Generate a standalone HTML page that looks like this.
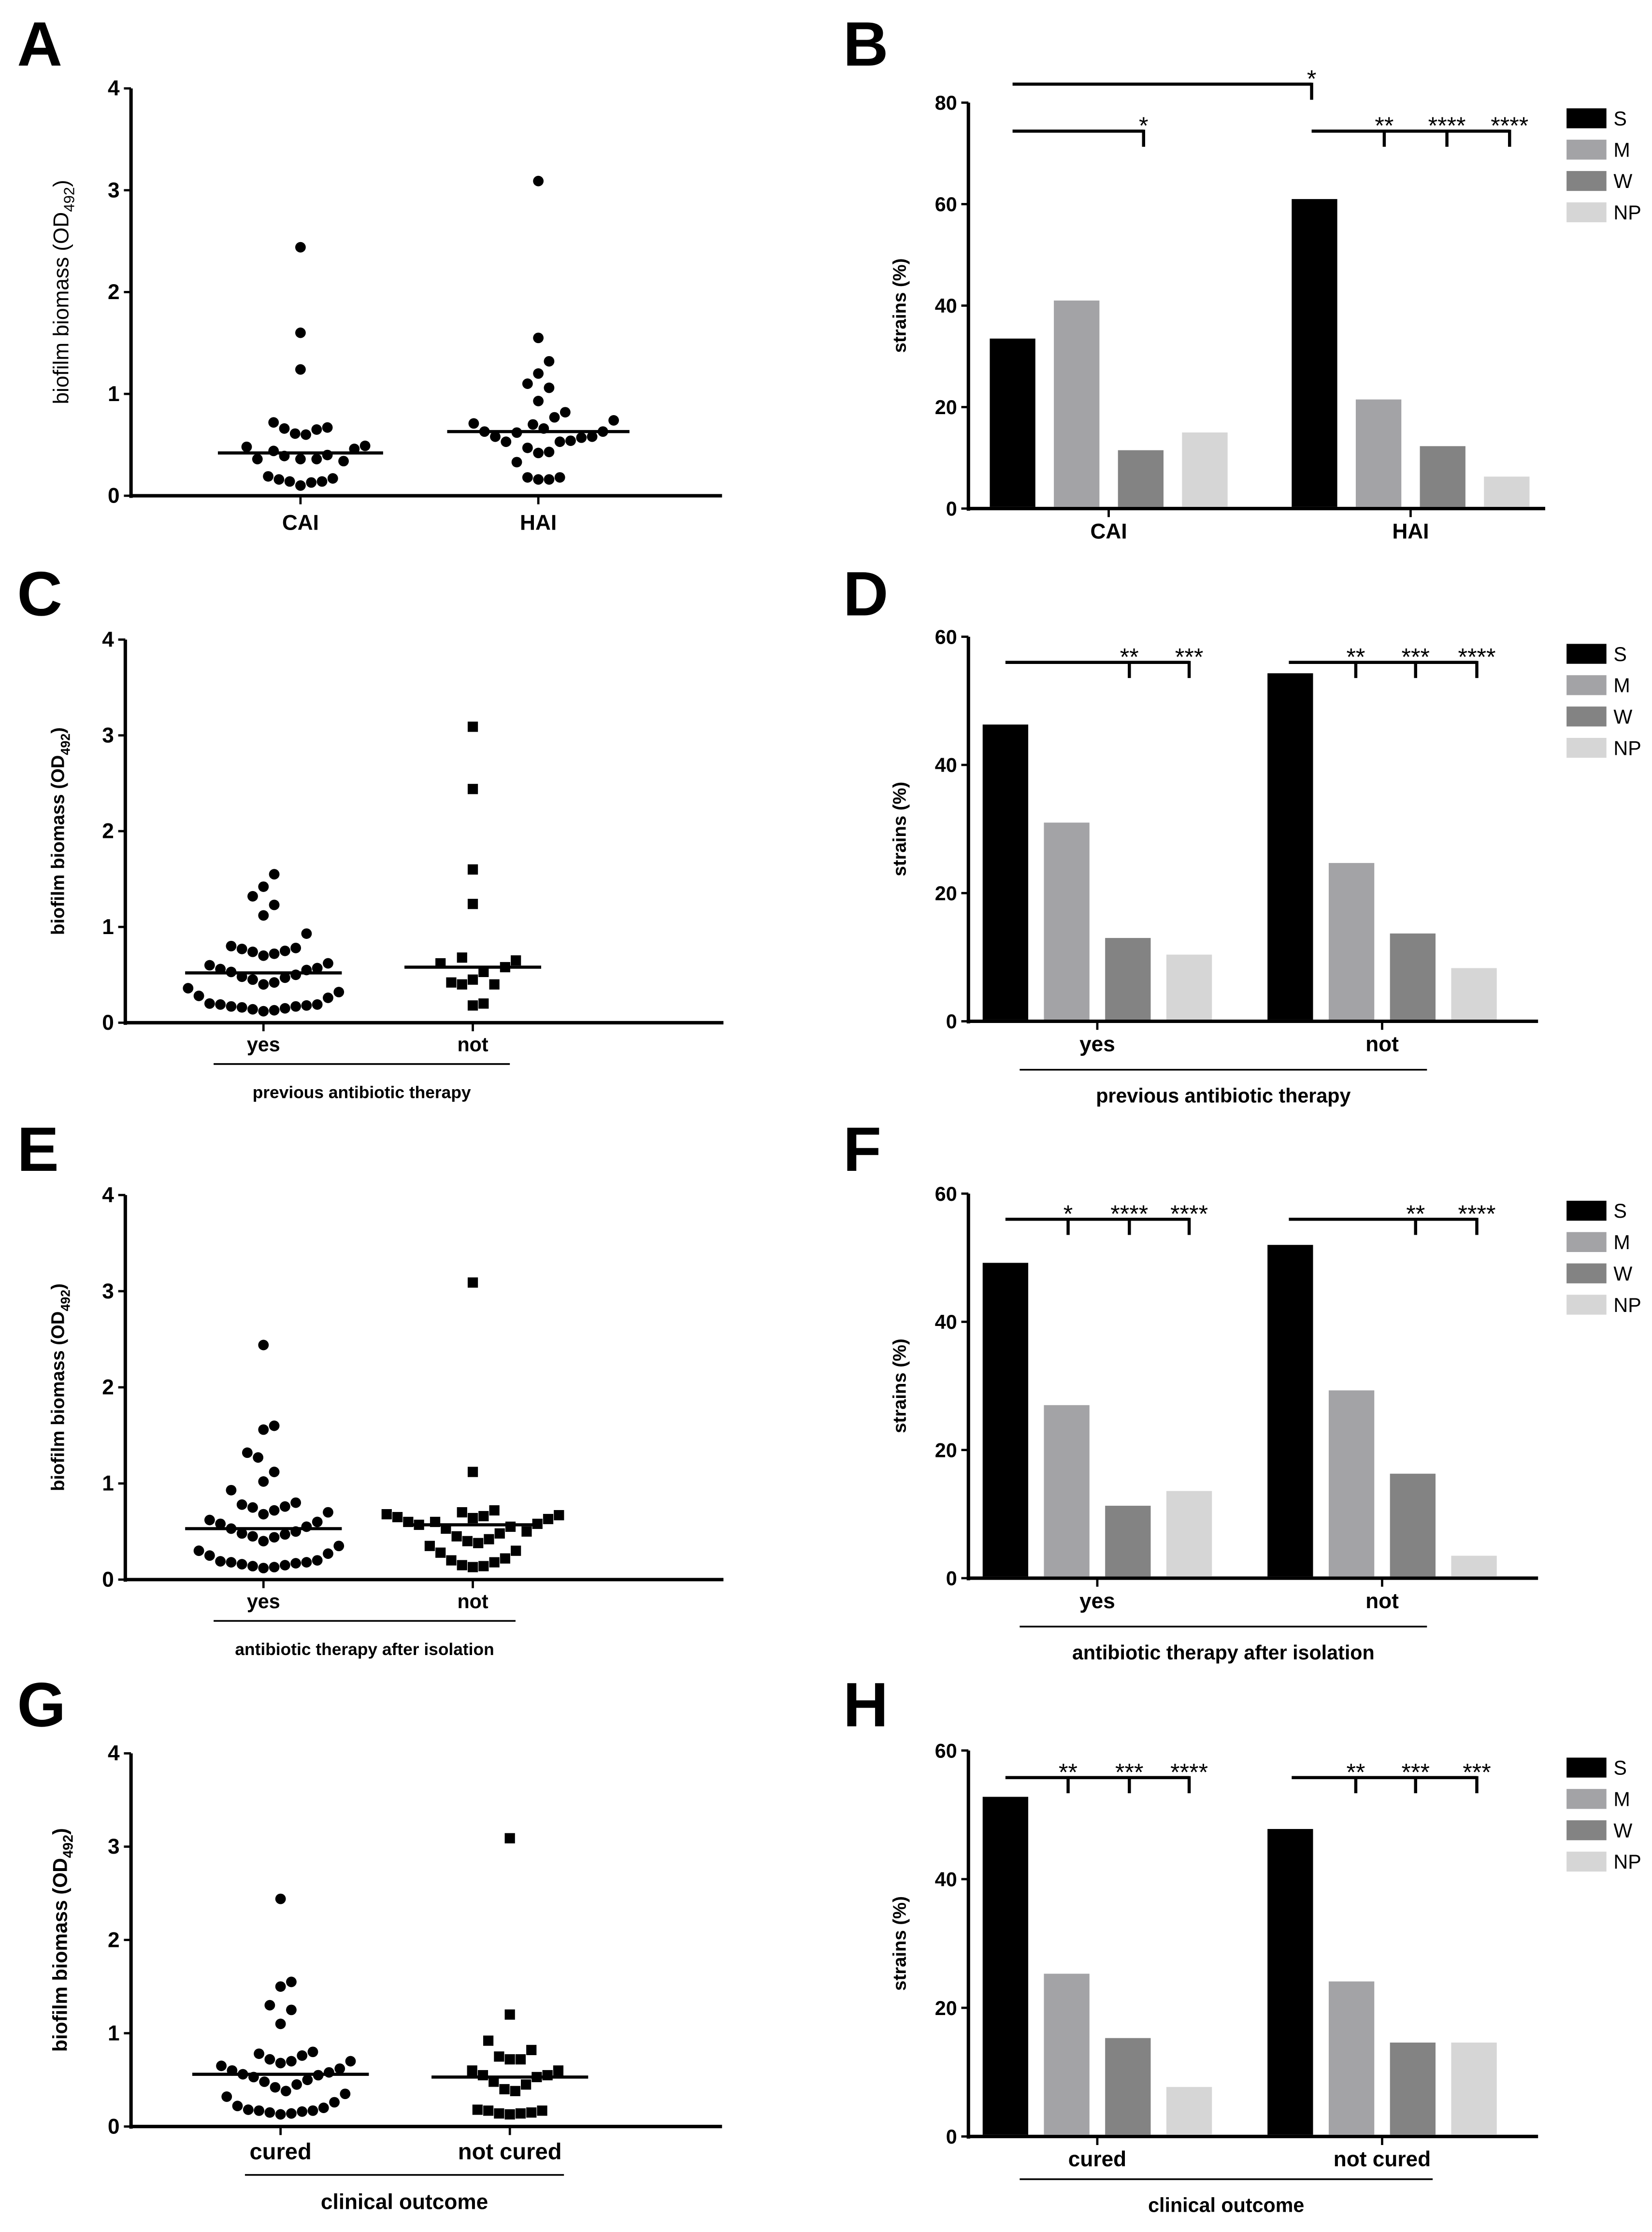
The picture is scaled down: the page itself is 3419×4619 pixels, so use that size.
<!DOCTYPE html>
<html><head><meta charset="utf-8">
<style>
html,body{margin:0;padding:0;background:#fff;}
svg{display:block;}
text{font-family:"Liberation Sans Narrow","Liberation Sans",sans-serif;}
.lab{font-family:"Liberation Sans",sans-serif;font-weight:bold;}
</style></head>
<body>
<svg id="fig" xmlns="http://www.w3.org/2000/svg" width="3419" height="4619" viewBox="0 0 1160 1567">
<rect width="1160" height="1567" fill="#fff"/>
</svg>
<script>
// ---------- data ----------
const scatterTicks = ["0","1","2","3","4"];
const barTicksB = ["0","20","40","60","80"];
const barTicks = ["0","20","40","60"];
const severityLabels = ["S","M","W","NP"];
const severityColors = ["#000000","#a3a3a6","#838383","#d6d6d6"];

const catsA = ["CAI","HAI"];
const A_CAI = [2.44,1.6,1.24,0.72,0.66,0.65,0.67,0.61,0.6,0.48,0.49,0.44,0.46,0.4,0.39,0.36,0.36,0.34,0.36,0.19,0.17,0.14,0.13,0.14,0.16,0.1];
const A_HAI = [3.09,1.55,1.32,1.2,1.1,1.06,0.93,0.82,0.77,0.74,0.71,0.7,0.66,0.63,0.63,0.62,0.58,0.58,0.57,0.54,0.53,0.53,0.47,0.43,0.42,0.33,0.18,0.16,0.16,0.18];
const A_median = [0.42,0.63];

const catsC = ["yes","not"];
const C_yes = [1.55,1.42,1.32,1.23,1.12,0.93,0.8,0.78,0.75,0.72,0.7,0.74,0.77,0.62,0.6,0.57,0.55,0.56,0.53,0.5,0.48,0.47,0.45,0.42,0.4,0.36,0.32,0.28,0.26,0.2,0.19,0.18,0.17,0.16,0.15,0.13,0.12,0.14,0.19,0.17];
const C_not = [3.09,2.44,1.6,1.24,0.68,0.65,0.62,0.58,0.53,0.45,0.42,0.4,0.4,0.2,0.18];
const C_median = [0.52,0.58];

const E_yes = [2.44,1.6,1.56,1.32,1.27,1.12,1.02,0.93,0.8,0.78,0.75,0.72,0.76,0.7,0.68,0.62,0.6,0.58,0.55,0.53,0.5,0.48,0.47,0.45,0.44,0.4,0.35,0.3,0.27,0.25,0.2,0.18,0.16,0.15,0.13,0.12,0.14,0.17,0.19,0.18];
const E_not = [3.09,1.12,0.72,0.7,0.68,0.67,0.66,0.65,0.64,0.63,0.6,0.6,0.58,0.57,0.55,0.53,0.5,0.48,0.45,0.42,0.4,0.38,0.35,0.3,0.28,0.22,0.2,0.18,0.15,0.13,0.14];
const E_median = [0.53,0.57];

const catsG = ["cured","not cured"];
const G_cured = [2.44,1.55,1.5,1.3,1.25,1.1,0.8,0.78,0.76,0.72,0.7,0.7,0.68,0.65,0.62,0.6,0.58,0.56,0.55,0.53,0.5,0.48,0.45,0.42,0.38,0.35,0.32,0.26,0.22,0.18,0.17,0.16,0.15,0.13,0.14,0.17,0.2];
const G_not = [3.09,1.2,0.92,0.82,0.75,0.72,0.72,0.6,0.6,0.55,0.55,0.53,0.48,0.45,0.4,0.38,0.17,0.15,0.14,0.13,0.14,0.17,0.18];
const G_median = [0.56,0.53];

const B_CAI = [33.5,41,11.5,15];
const B_HAI = [61,21.5,12.3,6.3];
const D_yes = [46.3,31,13,10.4];
const D_not = [54.3,24.7,13.7,8.3];
const F_yes = [49.2,27,11.3,13.6];
const F_not = [52,29.3,16.3,3.5];
const H_cured = [52.8,25.3,15.3,7.7];
const H_not = [47.8,24.1,14.6,14.6];

// ---------- helpers ----------
const svg = document.getElementById('fig');
const NS = "http://www.w3.org/2000/svg";
function mk(tag, attrs, parent){
  const e = document.createElementNS(NS, tag);
  for (const k in attrs) e.setAttribute(k, attrs[k]);
  (parent||svg).appendChild(e);
  return e;
}
function txt(s, x, y, size, opts, parent){
  const t = mk('text', Object.assign({x:x, y:y, 'font-size':size, 'text-anchor':'middle', 'font-weight':'bold'}, opts||{}), parent);
  t.textContent = s;
  return t;
}
function panelLetter(ch, x, y){
  const t = txt(ch, x, y, 44, {'text-anchor':'start', class:'lab'});
  
  
}
function swarm(vals, cx, yf, r){
  const placed = [];
  const sorted = vals.slice().sort((a,b)=>a-b);
  const out = [];
  const d = 2*r*1.05;
  const vs = 2.4; // vertical stretch -> wider spread like reference
  for (const v of sorted){
    const y = yf(v);
    let best = 0;
    for (let k=0;k<60;k++){
      const cands = k===0?[0]:[k*d*0.5,-k*d*0.5];
      let ok=null;
      for (const off of cands){
        if (placed.every(p=>Math.hypot(p[0]-off,(p[1]-y)/vs)>=d)){ok=off;break;}
      }
      if (ok!==null){best=ok;break;}
    }
    placed.push([best,y]);
    out.push([cx+best,y]);
  }
  return out;
}

function scatterPanel(cfg){
  const g = mk('g', {});
  
  
  const yf = v => cfg.y0 - v/4*(cfg.y0-cfg.yTop);
  const ya = mk('line',{x1:cfg.x0,y1:cfg.yTop,x2:cfg.x0,y2:cfg.y0+1.5,stroke:'#000','stroke-width':2.4},g);
  
  
  const xa = mk('line',{x1:cfg.x0-1.2,y1:cfg.y0,x2:cfg.x1,y2:cfg.y0,stroke:'#000','stroke-width':2.4},g);
  
  
  scatterTicks.forEach((s,i)=>{
    const y = yf(+s);
    mk('line',{x1:cfg.x0-5,y1:y,x2:cfg.x0,y2:y,stroke:'#000','stroke-width':1.6},g);
    const t = txt(s, cfg.x0-8, y+5, 15, {'text-anchor':'end'}, g);
    
    
  });
  const yl = mk('text',{x:0,y:0,'font-size':cfg.ylSize||15,'text-anchor':'middle',class:cfg.ylBold?'lab':'', 'font-family':'Liberation Sans, sans-serif','font-weight':cfg.ylBold?'bold':'normal',transform:`translate(${cfg.ylX},${(cfg.yTop+cfg.y0)/2}) rotate(-90)`},g);
  
  
  yl.appendChild(document.createTextNode('biofilm biomass (OD'));
  const sub = document.createElementNS(NS,'tspan');
  sub.setAttribute('font-size',(cfg.ylSize||15)*0.7);
  sub.setAttribute('dy','4');
  sub.textContent='492';
  yl.appendChild(sub);
  const cl = document.createElementNS(NS,'tspan');
  cl.setAttribute('dy','-4');
  cl.textContent=')';
  yl.appendChild(cl);
  cfg.cats.forEach((c,i)=>{
    const cx = cfg.cx[i];
    mk('line',{x1:cx,y1:cfg.y0,x2:cx,y2:cfg.y0+6,stroke:'#000','stroke-width':1.6},g);
    const t = txt(c, cx, cfg.y0+cfg.catDy, cfg.catSize||15, {}, g);
    
    
    const pts = swarm(cfg.series[i], cx, yf, 3.6);
    pts.forEach(p=>{
      let m;
      if (cfg.shapes[i]==='sq'){
        m = mk('rect',{x:p[0]-3.6,y:p[1]-3.6,width:7.2,height:7.2,fill:'#000'},g);
      } else {
        m = mk('circle',{cx:p[0],cy:p[1],r:3.7,fill:'#000'},g);
      }
      
      
    });
    const my = yf(cfg.median[i]);
    const ml = mk('line',{x1:cx-cfg.mw[i],y1:my,x2:cx+cfg.mw[i],y2:my,stroke:'#000','stroke-width':2.2},g);
    
    
  });
  if (cfg.group){
    const gl = mk('line',{x1:cfg.group[0],y1:cfg.group[1],x2:cfg.group[2],y2:cfg.group[1],stroke:'#000','stroke-width':1.2},g);
    
    
    const t = txt(cfg.group[3], (cfg.group[0]+cfg.group[2])/2, cfg.group[1]+24, cfg.groupSize||14, {}, g);
    
    
  }
}

function barPanel(cfg){
  const g = mk('g', {});
  
  
  const ticks = cfg.ticks;
  const vmax = +ticks[ticks.length-1];
  const yf = v => cfg.y0 - v/vmax*(cfg.y0-cfg.yTop);
  const ya = mk('line',{x1:cfg.x0,y1:cfg.yTop,x2:cfg.x0,y2:cfg.y0+1.5,stroke:'#000','stroke-width':2.4},g);
  
  
  const xa = mk('line',{x1:cfg.x0-1.2,y1:cfg.y0,x2:cfg.x1,y2:cfg.y0,stroke:'#000','stroke-width':2.4},g);
  
  
  ticks.forEach(s=>{
    const y = yf(+s);
    mk('line',{x1:cfg.x0-5,y1:y,x2:cfg.x0,y2:y,stroke:'#000','stroke-width':1.6},g);
    const t = txt(s, cfg.x0-8, y+5, 14, {'text-anchor':'end'}, g);
    
    
  });
  const yl = txt('strains (%)', 0, 0, 13, {class:'lab', transform:`translate(${cfg.x0-44},${(cfg.yTop+cfg.y0)/2}) rotate(-90)`}, g);
  
  
  const bw = 32, step = cfg.step||43;
  cfg.cats.forEach((c,i)=>{
    const start = cfg.gStart[i];
    cfg.series[i].forEach((v,j)=>{
      const x = start + j*step;
      const b = mk('rect',{x:x,y:yf(v),width:bw,height:cfg.y0-1.2-yf(v),fill:severityColors[j]},g);
      
      
    });
    const cx = start + (3*step+bw)/2;
    mk('line',{x1:cx,y1:cfg.y0,x2:cx,y2:cfg.y0+6,stroke:'#000','stroke-width':1.6},g);
    const t = txt(c, cx, cfg.y0+21, 15, {}, g);
    
    
  });
  severityLabels.forEach((s,j)=>{
    const y = cfg.legY + j*22;
    const r = mk('rect',{x:1100,y:y,width:28,height:14,fill:severityColors[j]},g);
    
    
    const t = mk('text',{x:1133,y:y+12,'font-size':14,'font-family':'Liberation Sans Narrow, Liberation Sans, sans-serif'},g);
    t.textContent = s;
    
    
  });
  (cfg.brackets||[]).forEach(br=>{
    const [x1,x2,y,ticksArr] = br;
    const l = mk('line',{x1:x1,y1:y,x2:x2,y2:y,stroke:'#000','stroke-width':2.2},g);
    
    
    ticksArr.forEach(tk=>{
      mk('line',{x1:tk[0],y1:y-1,x2:tk[0],y2:y+11,stroke:'#000','stroke-width':2.2},g);
      const t = txt(tk[1], tk[0], y+2, 17, {'font-weight':'normal','font-family':'Liberation Sans, sans-serif'}, g);
      
      
    });
  });
  if (cfg.group){
    const gl = mk('line',{x1:cfg.group[0],y1:cfg.group[1],x2:cfg.group[2],y2:cfg.group[1],stroke:'#000','stroke-width':1.2},g);
    
    
    const t = txt(cfg.group[3], (cfg.group[0]+cfg.group[2])/2, cfg.group[1]+23, 14, {}, g);
    
    
  }
}

// ---------- panels ----------
panelLetter('A', 12, 46); panelLetter('B', 592, 46);
panelLetter('C', 12, 432); panelLetter('D', 592, 432);
panelLetter('E', 12, 822); panelLetter('F', 592, 822);
panelLetter('G', 12, 1212); panelLetter('H', 592, 1212);

scatterPanel({name:'panel-a-scatter',x0:92,x1:507,yTop:62,y0:348,cats:catsA,cx:[211,378],series:[A_CAI,A_HAI],shapes:['c','c'],median:A_median,mw:[58,64],catDy:24,ylX:48,ylBold:false,ylSize:15});
scatterPanel({name:'panel-c-scatter',x0:88,x1:508,yTop:449,y0:718,cats:catsC,cx:[185,332],series:[C_yes,C_not],shapes:['c','sq'],median:C_median,mw:[55,48],catDy:20,ylX:45,ylBold:true,ylSize:13,catSize:14,group:[150,747,358,'previous antibiotic therapy'],groupSize:12});
scatterPanel({name:'panel-e-scatter',x0:88,x1:508,yTop:839,y0:1109,cats:catsC,cx:[185,332],series:[E_yes,E_not],shapes:['c','sq'],median:E_median,mw:[55,48],catDy:20,ylX:45,ylBold:true,ylSize:13,catSize:14,group:[150,1138,362,'antibiotic therapy after isolation'],groupSize:12});
scatterPanel({name:'panel-g-scatter',x0:92,x1:507,yTop:1231,y0:1493,cats:catsG,cx:[197,358],series:[G_cured,G_not],shapes:['c','sq'],median:G_median,mw:[62,55],catDy:23,ylX:47,ylBold:true,ylSize:14,catSize:16,group:[172,1527,396,'clinical outcome'],groupSize:15});

barPanel({name:'panel-b-bars',x0:680,x1:1085,yTop:72,y0:357,ticks:barTicksB,cats:catsA,gStart:[695,907],step:45,series:[B_CAI,B_HAI],legY:76,
  brackets:[[711,921,59,[[921,'*']]],[711,803,92,[[803,'*']]],[921,1060,92,[[972,'**'],[1016,'****'],[1060,'****']]]]});
barPanel({name:'panel-d-bars',x0:680,x1:1080,yTop:447,y0:717,ticks:barTicks,cats:catsC,gStart:[690,890],series:[D_yes,D_not],legY:452,
  brackets:[[706,835,465,[[793,'**'],[835,'***']]],[905,1037,465,[[952,'**'],[994,'***'],[1037,'****']]]],group:[716,751,1002,'previous antibiotic therapy']});
barPanel({name:'panel-f-bars',x0:680,x1:1080,yTop:838,y0:1108,ticks:barTicks,cats:catsC,gStart:[690,890],series:[F_yes,F_not],legY:843,
  brackets:[[706,835,856,[[750,'*'],[793,'****'],[835,'****']]],[905,1037,856,[[994,'**'],[1037,'****']]]],group:[716,1142,1002,'antibiotic therapy after isolation']});
barPanel({name:'panel-h-bars',x0:680,x1:1080,yTop:1229,y0:1500,ticks:barTicks,cats:catsG,gStart:[690,890],series:[H_cured,H_not],legY:1234,
  brackets:[[706,835,1248,[[750,'**'],[793,'***'],[835,'****']]],[907,1037,1248,[[952,'**'],[994,'***'],[1037,'***']]]],group:[716,1530,1006,'clinical outcome']});
</script>
</body></html>
